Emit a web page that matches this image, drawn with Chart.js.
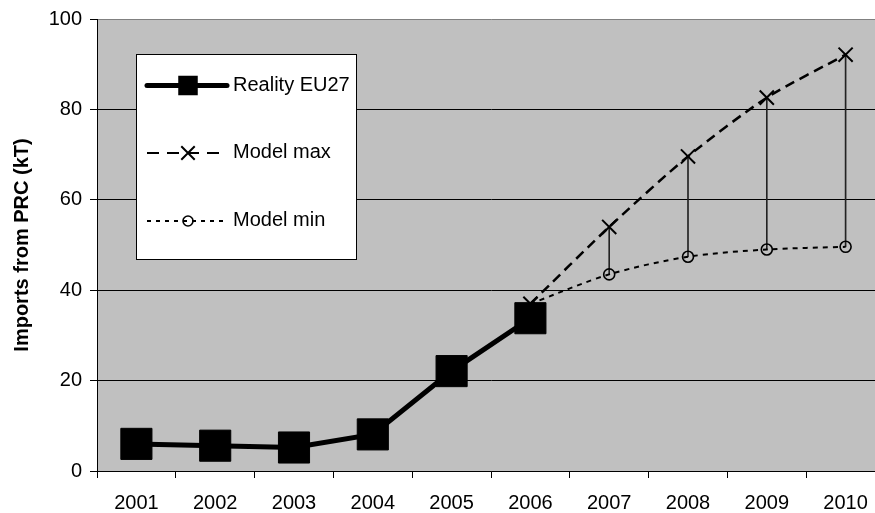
<!DOCTYPE html>
<html>
<head>
<meta charset="utf-8">
<script src="https://cdn.jsdelivr.net/npm/chart.js@4/dist/chart.umd.min.js"></script>
<style>
html, body { margin: 0; padding: 0; background: #ffffff; overflow: hidden; width: 875px; height: 513px; }
#wrap { position: relative; width: 886px; height: 513px; }
canvas { display: block; }
</style>
</head>
<body>
<div id="wrap"><canvas id="c" width="886" height="513"></canvas></div>
<script>
// ---- data ----
const years = ['2001', '2002', '2003', '2004', '2005', '2006', '2007', '2008', '2009', '2010'];
const realityEU27 = [6.0, 5.6, 5.2, 8.1, 22.1, 33.8, null, null, null, null];
const modelMax = [null, null, null, null, null, 37.0, 54.0, 69.6, 82.6, 92.1];
const modelMin = [null, null, null, null, null, 37.0, 43.5, 47.4, 49.0, 49.6];
const seriesNames = ['Reality EU27', 'Model max', 'Model min'];
const yAxisTitle = 'Imports from PRC (kT)';
const yMin = 0, yMax = 100, yStep = 20;

// high-low connectors between model max and model min (2007-2010)
const rangeBars = years.map((y, i) => (i >= 6 && modelMin[i] != null && modelMax[i] != null) ? [modelMin[i], modelMax[i]] : null);

const FONT = '"Liberation Sans", Arial, sans-serif';

const bgPlugin = {
  id: 'plotBg',
  beforeDraw(chart) {
    const a = chart.chartArea, ctx = chart.ctx;
    ctx.save();
    ctx.fillStyle = '#c0c0c0';
    ctx.fillRect(a.left, a.top, a.right - a.left, a.bottom - a.top);
    ctx.restore();
  }
};

const legendPlugin = {
  id: 'boxLegend',
  afterDatasetsDraw(chart, args, opts) {
    const ctx = chart.ctx;
    const H = Chart.helpers;
    ctx.save();
    ctx.fillStyle = '#ffffff';
    ctx.fillRect(opts.x, opts.y, opts.w, opts.h);
    ctx.strokeStyle = '#000000';
    ctx.lineWidth = 1;
    ctx.strokeRect(opts.x + 0.5, opts.y + 0.5, opts.w - 1, opts.h - 1);
    opts.entries.forEach((e) => {
      const ds = chart.data.datasets[e.dataset];
      ctx.save();
      ctx.strokeStyle = '#000';
      ctx.lineWidth = e.lineWidth;
      ctx.lineCap = e.cap;
      ctx.setLineDash(e.dash);
      ctx.beginPath();
      ctx.moveTo(opts.lineX0, e.y);
      ctx.lineTo(opts.lineX1, e.y);
      ctx.stroke();
      ctx.restore();
      ctx.save();
      ctx.setLineDash([]);
      ctx.fillStyle = e.fill;
      ctx.strokeStyle = '#000';
      ctx.lineWidth = e.pointBorder;
      H.drawPoint(ctx, { pointStyle: ds.pointStyle, radius: e.radius, borderWidth: e.pointBorder, rotation: 0 }, opts.markerX, e.y);
      ctx.restore();
      ctx.fillStyle = '#000';
      ctx.font = '20px ' + FONT;
      ctx.textBaseline = 'middle';
      ctx.textAlign = 'left';
      ctx.fillText(ds.label, opts.textX, e.textY);
    });
    ctx.restore();
  }
};

new Chart(document.getElementById('c'), {
  type: 'line',
  data: {
    labels: years,
    datasets: [
      {
        label: seriesNames[0],
        data: realityEU27,
        borderColor: '#000',
        backgroundColor: '#000',
        borderWidth: 5,
        pointStyle: 'rect',
        pointRadius: 22,
        pointBorderWidth: 1,
        pointBackgroundColor: '#000',
        pointBorderColor: '#000',
        tension: 0,
        order: 0,
        clip: false
      },
      {
        label: seriesNames[1],
        data: modelMax,
        borderColor: '#000',
        backgroundColor: '#000',
        borderWidth: 2.5,
        borderDash: [10, 6],
        pointStyle: 'crossRot',
        pointRadius: 10,
        pointBorderWidth: 2,
        pointBorderColor: '#000',
        tension: 0.25,
        order: 1,
        clip: false
      },
      {
        label: seriesNames[2],
        data: modelMin,
        borderColor: '#000',
        backgroundColor: 'rgba(0,0,0,0)',
        borderWidth: 2,
        borderDash: [5, 5],
        pointStyle: 'circle',
        pointRadius: modelMin.map((v, i) => i === 5 ? 0 : 5.5),
        pointBorderWidth: 1.6,
        pointBorderColor: '#000',
        pointBackgroundColor: 'rgba(0,0,0,0)',
        tension: 0.3,
        order: 2,
        clip: false
      },
      {
        type: 'bar',
        label: 'range',
        data: rangeBars,
        backgroundColor: '#222',
        borderWidth: 0,
        barThickness: 1,
        grouped: false,
        order: 3
      }
    ]
  },
  options: {
    responsive: false,
    animation: false,
    devicePixelRatio: 1,
    layout: { autoPadding: false, padding: { top: 19, right: 1, bottom: 0, left: 0 } },
    plugins: {
      legend: { display: false },
      tooltip: { enabled: false },
      boxLegend: {
        x: 136, y: 54, w: 221, h: 206,
        lineX0: 147, lineX1: 227, markerX: 188, textX: 233,
        entries: [
          { dataset: 0, y: 85.5, textY: 85.5, lineWidth: 5, cap: 'round', dash: [], radius: 13.8, pointBorder: 0, fill: '#000' },
          { dataset: 1, y: 153, textY: 152, lineWidth: 2, cap: 'butt', dash: [12, 8], radius: 9.5, pointBorder: 2, fill: '#000' },
          { dataset: 2, y: 221, textY: 220, lineWidth: 2, cap: 'butt', dash: [4, 5], radius: 5, pointBorder: 1.6, fill: 'rgba(0,0,0,0)' }
        ]
      }
    },
    scales: {
      x: {
        type: 'category',
        offset: true,
        grid: { display: true, offset: true, drawOnChartArea: false, drawTicks: true, tickLength: 7, color: '#000', lineWidth: 1 },
        border: { display: true, color: '#000', width: 1 },
        ticks: { font: { family: FONT, size: 20 }, color: '#000', padding: 13, maxRotation: 0, autoSkip: false },
        afterFit(s) { s.height = 42; s.paddingLeft = 0; s.paddingRight = 0; }
      },
      y: {
        min: yMin,
        max: yMax,
        ticks: { stepSize: yStep, font: { family: FONT, size: 20 }, color: '#000', padding: 8 },
        grid: {
          color: (c) => (c.tick && c.tick.value === yMax) ? '#808080' : '#000',
          tickColor: '#000',
          lineWidth: 1,
          drawTicks: true,
          tickLength: 7
        },
        border: { display: true, color: '#000', width: 1 },
        title: { display: true, text: yAxisTitle, font: { family: FONT, size: 20, weight: 'bold' }, color: '#000', padding: { top: 10, bottom: 0 } },
        afterFit(s) { s.width = 97; s.paddingTop = 0; s.paddingBottom = 0; }
      }
    }
  },
  plugins: [bgPlugin, legendPlugin]
});
</script>
</body>
</html>
